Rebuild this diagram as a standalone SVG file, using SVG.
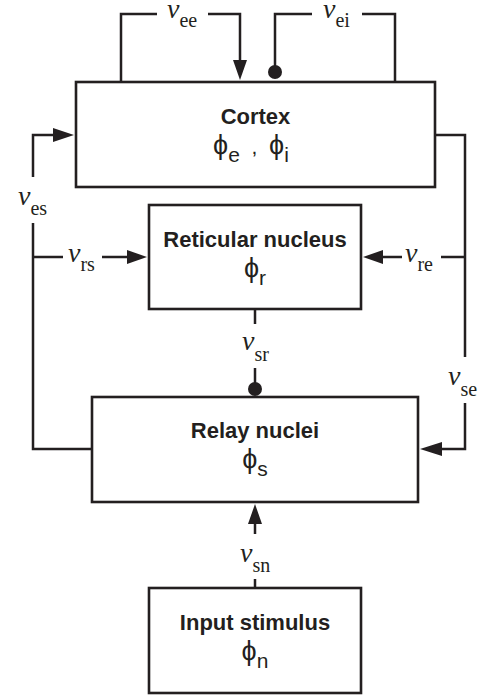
<svg xmlns="http://www.w3.org/2000/svg" width="490" height="695" viewBox="0 0 490 695">
<defs>
<style>
.box{fill:#fff;stroke:#231f20;stroke-width:2.6}
.ln{fill:none;stroke:#231f20;stroke-width:2.5}
.ah{fill:#231f20}
.title{font-family:"Liberation Sans",Arial,sans-serif;font-weight:bold;font-size:22px;fill:#231f20;text-anchor:middle}
.phi{font-family:"Liberation Sans","DejaVu Sans",sans-serif;font-size:27px;fill:#231f20;text-anchor:middle}
.phs{font-size:21px}
.lab{font-family:"Liberation Serif","Times New Roman",serif;font-size:20px;fill:#231f20}
.v{font-style:italic;font-size:28px}
</style>
</defs>
<rect width="490" height="695" fill="#fff"/>
<g id="connectors">
<path class="ln" d="M121,82 V14 H157 M208,14 H240 V62"/>
<polygon class="ah" points="240,80 233,60 247,60"/>
<path class="ln" d="M395,82 V14 H362 M312,14 H275 V70"/>
<circle class="ah" cx="275" cy="72" r="7"/>
<path class="ln" d="M92,449 H33 V223 M33,177 V135 H55"/>
<polygon class="ah" points="74,135 53,128 53,142"/>
<path class="ln" d="M33,257 H63 M102,257 H129"/>
<polygon class="ah" points="147,257 127,250 127,264"/>
<path class="ln" d="M435,135 H465 V357 M465,403 V449 H440"/>
<polygon class="ah" points="420,449 442,442 442,456"/>
<path class="ln" d="M465,257 H441 M402,257 H381"/>
<polygon class="ah" points="363,257 383,250 383,264"/>
<path class="ln" d="M255,309 V324 M255,368 V384"/>
<circle class="ah" cx="255" cy="389" r="7"/>
<path class="ln" d="M255,588 V579 M255,534 V522"/>
<polygon class="ah" points="255,504 248,524 262,524"/>
</g>
<g id="labels">
<text class="lab" x="167" y="18"><tspan class="v">v</tspan><tspan dy="9">ee</tspan></text>
<text class="lab" x="323" y="18"><tspan class="v">v</tspan><tspan dy="9">ei</tspan></text>
<text class="lab" x="18" y="205"><tspan class="v">v</tspan><tspan dy="10">es</tspan></text>
<text class="lab" x="68" y="262"><tspan class="v">v</tspan><tspan dy="9">rs</tspan></text>
<text class="lab" x="405" y="262"><tspan class="v">v</tspan><tspan dy="9">re</tspan></text>
<text class="lab" x="242" y="350"><tspan class="v">v</tspan><tspan dy="11">sr</tspan></text>
<text class="lab" x="448" y="385"><tspan class="v">v</tspan><tspan dy="11">se</tspan></text>
<text class="lab" x="240" y="562"><tspan class="v">v</tspan><tspan dy="10">sn</tspan></text>
</g>
<g id="cortex">
<rect class="box" x="76" y="82" width="359" height="105"/>
<text class="title" x="255.5" y="124">Cortex</text>
<text class="phi" x="251" y="154">ϕ<tspan class="phs" dy="8">e</tspan><tspan class="phs" dy="-8">&#160;&#160;,&#160;&#160;</tspan><tspan>ϕ</tspan><tspan class="phs" dy="8">i</tspan></text>
</g>
<g id="reticular">
<rect class="box" x="149" y="205" width="212" height="104"/>
<text class="title" x="255" y="247">Reticular nucleus</text>
<text class="phi" x="255" y="277">ϕ<tspan class="phs" dy="8">r</tspan></text>
</g>
<g id="relay">
<rect class="box" x="92" y="397" width="326" height="105"/>
<text class="title" x="255" y="438">Relay nuclei</text>
<text class="phi" x="255" y="468">ϕ<tspan class="phs" dy="8">s</tspan></text>
</g>
<g id="input">
<rect class="box" x="149" y="588" width="212" height="105"/>
<text class="title" x="255" y="630">Input stimulus</text>
<text class="phi" x="255" y="660">ϕ<tspan class="phs" dy="8">n</tspan></text>
</g>
</svg>
